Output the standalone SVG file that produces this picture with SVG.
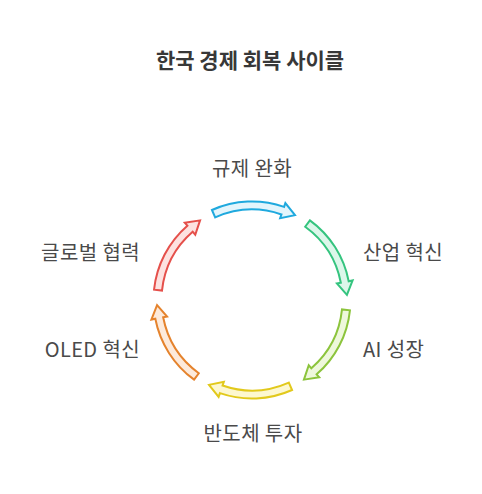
<svg xmlns="http://www.w3.org/2000/svg" width="482" height="494" viewBox="0 0 482 494">
<style>
.t{font-family:"Noto Sans CJK KR","Noto Sans",sans-serif;font-size:20px;letter-spacing:0.4px;fill:#4a4a4a}
.title{font-family:"Noto Sans CJK KR","Noto Sans",sans-serif;font-size:21px;font-weight:bold;fill:#383838}
.a{stroke-width:2;stroke-linejoin:miter}
</style>
<defs>
<path id="arr" d="M89.98,-40.06 A98.5,98.5 0 0 1 93.13,32.07 L96.92,33.37 L84.8,43.0 L81.79,28.16 L85.57,29.47 A90.5,90.5 0 0 0 82.67,-36.81 Z"/>
</defs>
<rect width="482" height="494" fill="#ffffff"/>
<text class="title" x="250" y="68" text-anchor="middle">한국 경제 회복 사이클</text>
<g id="connectors">
<use href="#arr" class="a" transform="translate(252,300) rotate(-90)" fill="#e3f5fc" stroke="#1fa9de"/>
<use href="#arr" class="a" transform="translate(252,300) rotate(-30)" fill="#dcf7ea" stroke="#35c47f"/>
<use href="#arr" class="a" transform="translate(252,300) rotate(30)" fill="#eef8dc" stroke="#8cc43c"/>
<use href="#arr" class="a" transform="translate(252,300) rotate(90)" fill="#fdf8d0" stroke="#e2c91c"/>
<use href="#arr" class="a" transform="translate(252,300) rotate(150)" fill="#fdeadb" stroke="#e5832d"/>
<use href="#arr" class="a" transform="translate(252,300) rotate(210)" fill="#fde2e0" stroke="#e5504b"/>
</g>
<g id="node-regulation"><text class="t" x="252" y="176" text-anchor="middle">규제 완화</text></g>
<g id="node-industry"><text class="t" x="363" y="260">산업 혁신</text></g>
<g id="node-ai"><text class="t" x="363" y="357">AI 성장</text></g>
<g id="node-semiconductor"><text class="t" x="253" y="441" text-anchor="middle">반도체 투자</text></g>
<g id="node-oled"><text class="t" x="140" y="357" text-anchor="end">OLED 혁신</text></g>
<g id="node-global"><text class="t" x="140" y="260" text-anchor="end">글로벌 협력</text></g>
</svg>
